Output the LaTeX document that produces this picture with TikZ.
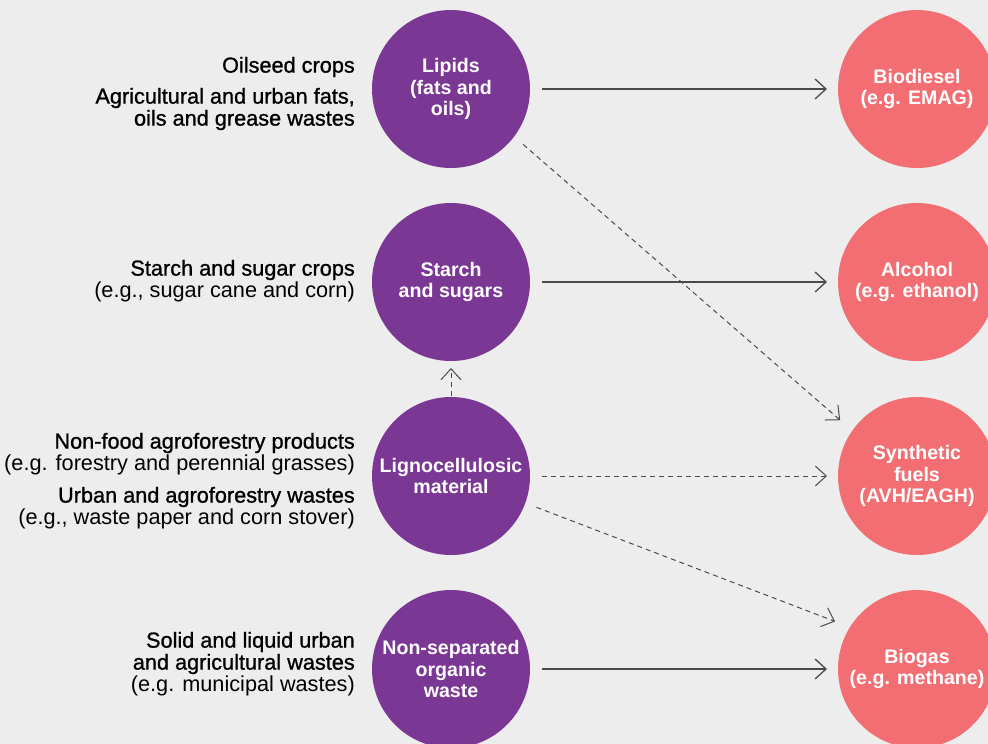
\documentclass[tikz,border=0pt]{standalone}
\usepackage{fontspec}
\setmainfont{Liberation Sans}
\newfontfamily\medfont[FakeBold=1]{Liberation Sans}
\newfontfamily\regfont{Liberation Sans}
\usetikzlibrary{arrows.meta,positioning}
\definecolor{bg}{HTML}{EDEDED}
\definecolor{feed}{HTML}{7B3794}
\definecolor{fuel}{HTML}{F26E73}
\definecolor{link}{HTML}{4A4A4A}

\begin{document}
\begin{tikzpicture}[x=1pt,y=-1pt,
  feedstock/.style={circle,fill=feed,text=white,minimum size=158pt,inner sep=0pt,outer sep=0pt,
    align=center,font=\fontsize{19.6}{21.3}\selectfont\bfseries},
  product/.style={feedstock,fill=fuel},
  source/.style={anchor=east,align=right,inner sep=0pt,font=\fontsize{21.7}{22}\selectfont\medfont},
  flow/.style={draw=link,line width=1.3pt,-{Straight Barb[length=11pt,width=20pt]},
    shorten <=12pt,shorten >=11pt},
  optflow/.style={flow,line width=1pt,dash pattern=on 5pt off 4pt}]
  \fill[bg] (0,0) rectangle (988,744);
  \useasboundingbox (0,0) rectangle (988,744);
  \clip (0,0) rectangle (988,744);

  % Feedstocks
  \node[feedstock] (lip) at (451,89) {Lipids\\(fats and\\oils)};
  \node[feedstock] (sta) at (451,282) {Starch\\and sugars};
  \node[feedstock] (lig) at (451,476) {Lignocellulosic\\material};
  \node[feedstock] (non) at (451,669) {Non-separated\\organic\\waste};

  % Fuels
  \node[product] (bio) at (917,89) {Biodiesel\\(e.g. EMAG)};
  \node[product] (alc) at (917,282) {Alcohol\\(e.g. ethanol)};
  \node[product] (syn) at (917,476) {Synthetic\\fuels\\(AVH/EAGH)};
  \node[product] (gas) at (917,669) {Biogas\\(e.g. methane)};

  % Sources
  \node[source] (oil) at (355,67) {Oilseed crops};
  \node[source] (fat) at (355,109) {Agricultural and urban fats,\\oils and grease wastes};
  \node[source] (crp) at (355,281) {Starch and sugar crops\\\regfont(e.g., sugar cane and corn)};
  \node[source] (agf) at (355,454) {Non-food agroforestry products\\\regfont(e.g. forestry and perennial grasses)};
  \node[source] (urb) at (355,508) {Urban and agroforestry wastes\\\regfont(e.g., waste paper and corn stover)};
  \node[source] (sol) at (355,664) {Solid and liquid urban\\and agricultural wastes\\\regfont(e.g. municipal wastes)};

  % Conversions
  \draw[flow] (lip) -- (bio);
  \draw[flow] (sta) -- (alc);
  \draw[flow] (non) -- (gas);
  \draw[optflow,shorten >=16pt] (lip.-37) -- (syn.145);
  \draw[optflow,shorten <=1pt,shorten >=7pt] (lig) -- (sta);
  \draw[optflow] (lig) -- (syn);
  \draw[optflow,shorten >=16pt] (lig.-20) -- (gas.148);
\end{tikzpicture}
\end{document}
